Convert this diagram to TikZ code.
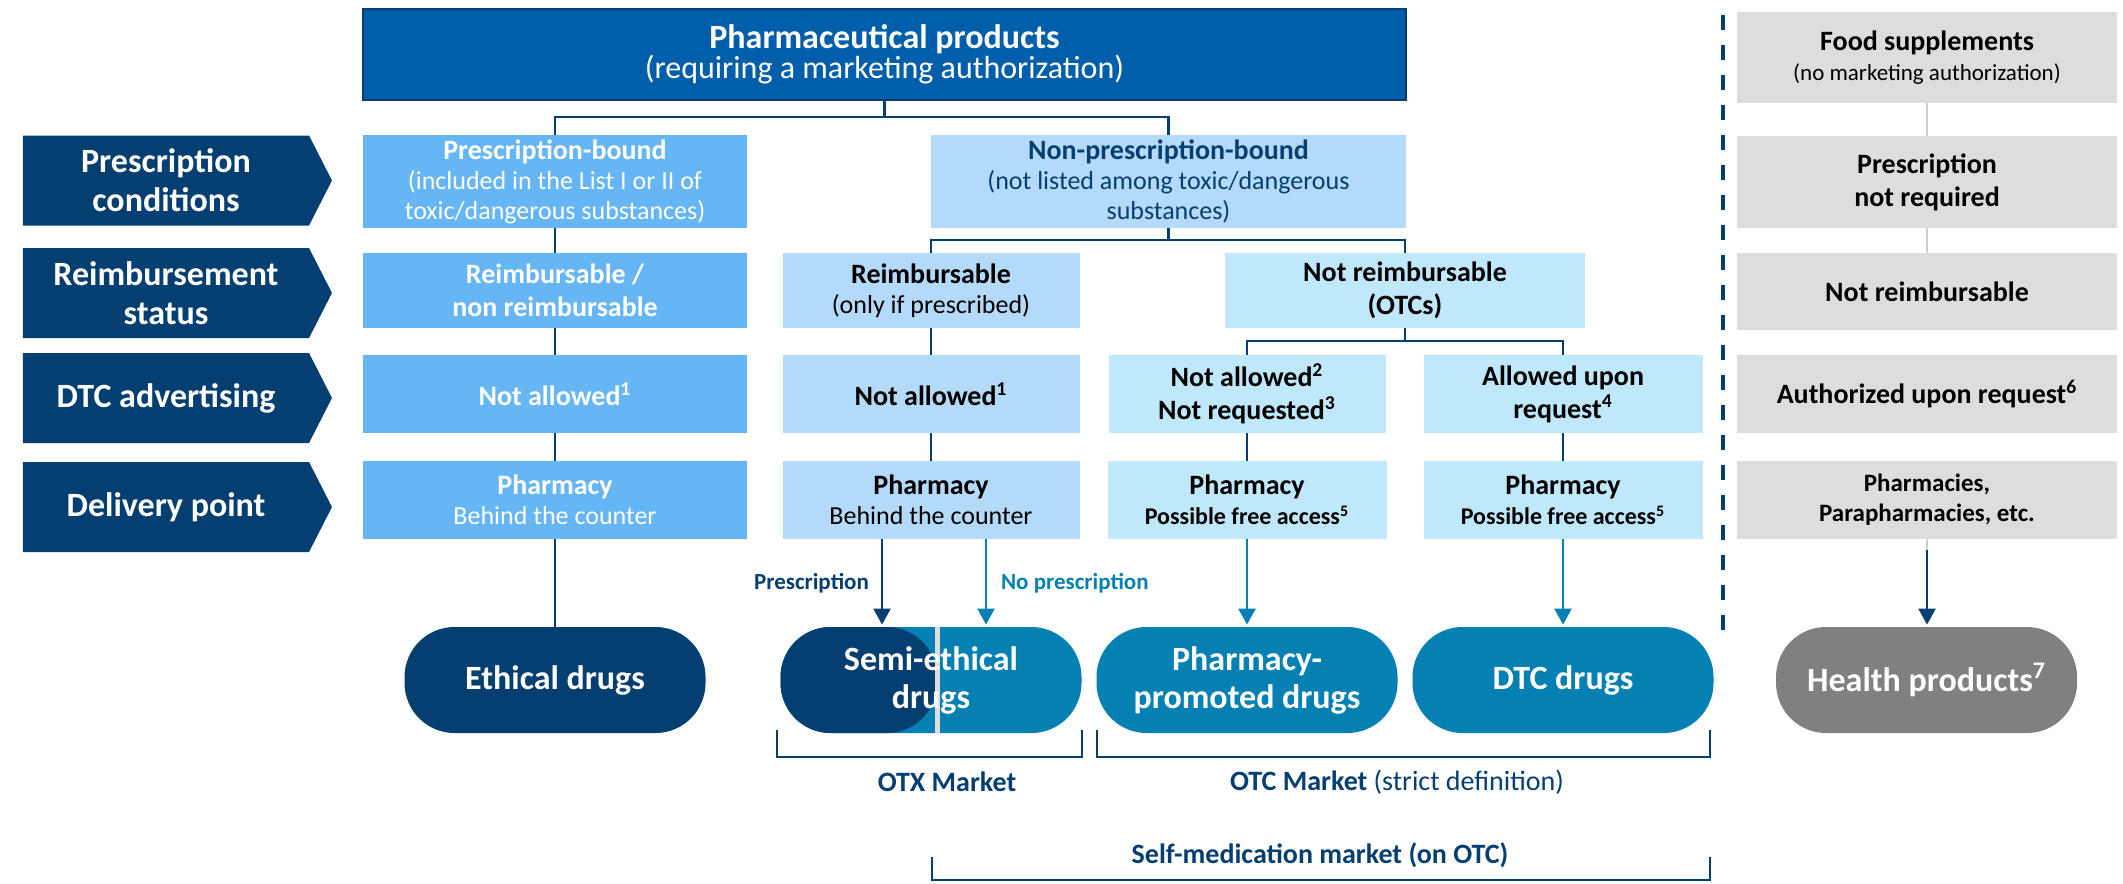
\documentclass[tikz,border=0pt]{standalone}
\usepackage{fontspec}
\setmainfont{Carlito}
\usetikzlibrary{arrows.meta,shapes.symbols}
\definecolor{cTop}{RGB}{0, 94, 170}
\definecolor{cNavy}{RGB}{5, 62, 112}
\definecolor{cMid}{RGB}{102, 182, 246}
\definecolor{cLight}{RGB}{180, 218, 250}
\definecolor{cPale}{RGB}{191, 232, 251}
\definecolor{cGrey}{RGB}{221, 221, 221}
\definecolor{cTeal}{RGB}{4, 128, 179}
\definecolor{cPill}{RGB}{128, 128, 128}
\definecolor{cSep}{RGB}{205, 205, 205}

\begin{document}
\begin{tikzpicture}[
    x=0.5pt, y=-0.5pt,
    >={Triangle[length=8pt,width=8.5pt]},
    cell/.style={align=center, inner sep=1pt, font=\fontsize{13}{15}\selectfont},
    boxSize/.style 2 args={minimum width=#1*0.5pt, minimum height=#2*0.5pt},
    entry/.style={font=\fontsize{14}{16.5}\selectfont\bfseries},
    midBox/.style={cell, fill=cMid, text=white},
    lightBox/.style={cell, fill=cLight, text=black},
    paleBox/.style={cell, fill=cPale, text=black},
    greyBox/.style={cell, fill=cGrey, text=black},
    rowLab/.style={shape=signal, signal to=east, signal pointer angle=126,
        fill=cNavy, text=white, align=center, inner sep=0pt,
        font=\fontsize{17}{19.5}\selectfont\bfseries,
        minimum width=154.5pt, minimum height=45pt},
    pill/.style={rounded corners=25pt, minimum width=150.5pt, minimum height=53pt,
        text=white, align=center, font=\fontsize{17}{19}\selectfont\bfseries},
    tree/.style={cNavy, line width=1.2pt},
    tealLine/.style={cTeal, line width=1.2pt},
    greyLink/.style={cSep, line width=1.2pt},
    bracket/.style={cNavy, line width=1.3pt},
    mkt/.style={text=cNavy, font=\fontsize{14}{16}\selectfont\bfseries},
    tag/.style={font=\fontsize{11.5}{13}\selectfont\bfseries}
]
    \useasboundingbox (0,0) rectangle (2123,883);

    % ---------------- header ----------------
    \node[cell, fill=cTop, draw=cNavy, line width=0.8pt, text=white, boxSize={1043}{91}]
        (pharma) at (884.5,54.5)
        {{\fontsize{17}{20}\selectfont\bfseries Pharmaceutical products}\\
         {\fontsize{16}{19}\selectfont (requiring a marketing authorization)}};

    % ---------------- row labels ----------------
    \node[rowLab] (labCond)  at (166,180.5) {Prescription\\conditions};
    \node[rowLab] (labReimb) at (166,293)   {Reimbursement\\status};
    \node[rowLab] (labDtc)   at (166,398)   {DTC advertising};
    \node[rowLab] (labDeliv) at (166,507)   {Delivery point};

    % ---------------- prescription conditions ----------------
    \node[midBox, boxSize={384}{93}] (presc) at (555,181.5)
        {{\fontsize{14}{16}\selectfont\bfseries Prescription-bound}\\(included in the List I or II of\\toxic/dangerous substances)};
    \node[lightBox, text=cNavy, boxSize={475}{93}] (nonpresc) at (1168.5,181.5)
        {{\fontsize{14}{16}\selectfont\bfseries Non-prescription-bound}\\(not listed among toxic/dangerous\\substances)};

    % ---------------- reimbursement ----------------
    \node[midBox, entry, boxSize={384}{75}] (reimbA) at (555,290.5)
        {Reimbursable /\\non reimbursable};
    \node[lightBox, boxSize={297}{75}] (reimbB) at (931,290.5)
        {{\fontsize{14}{16.5}\selectfont\bfseries Reimbursable}\\(only if prescribed)};
    \node[paleBox, entry, boxSize={360}{75}] (noreimb) at (1405,290.5)
        {Not reimbursable\\(OTCs)};

    % ---------------- DTC advertising ----------------
    \node[midBox, entry, boxSize={384}{78}] (advA) at (555,394)
        {Not allowed\textsuperscript{1}};
    \node[lightBox, entry, boxSize={297}{78}] (advB) at (931,394)
        {Not allowed\textsuperscript{1}};
    \node[paleBox, entry, boxSize={277}{78}] (advC) at (1247,394)
        {Not allowed\textsuperscript{2}\\Not requested\textsuperscript{3}};
    \node[paleBox, entry, boxSize={279}{78}] (advD) at (1563,394)
        {Allowed upon\\request\textsuperscript{4}};

    % ---------------- delivery point ----------------
    \node[midBox, boxSize={384}{78}] (pharmA) at (555,500)
        {{\fontsize{14}{16.5}\selectfont\bfseries Pharmacy}\\Behind the counter};
    \node[lightBox, boxSize={297}{78}] (pharmB) at (931,500)
        {{\fontsize{14}{16.5}\selectfont\bfseries Pharmacy}\\Behind the counter};
    \node[paleBox, boxSize={279}{78}] (pharmC) at (1247,500)
        {{\fontsize{14}{16.5}\selectfont\bfseries Pharmacy}\\
         {\fontsize{12}{14}\selectfont\bfseries Possible free access\textsuperscript{5}}};
    \node[paleBox, boxSize={279}{78}] (pharmD) at (1563,500)
        {{\fontsize{14}{16.5}\selectfont\bfseries Pharmacy}\\
         {\fontsize{12}{14}\selectfont\bfseries Possible free access\textsuperscript{5}}};

    % ---------------- food supplements column ----------------
    \node[greyBox, boxSize={380}{91}] (food) at (1927,57.5)
        {{\fontsize{14}{17}\selectfont\bfseries Food supplements}\\
         {\fontsize{11.5}{14}\selectfont (no marketing authorization)}};
    \node[greyBox, entry, boxSize={380}{92}] (rxFree) at (1927,182)
        {Prescription\\not required};
    \node[greyBox, entry, boxSize={380}{77}] (greyReimb) at (1927,291.5)
        {Not reimbursable};
    \node[greyBox, entry, boxSize={380}{78}] (greyAdv) at (1927,394)
        {Authorized upon request\textsuperscript{6}};
    \node[greyBox, boxSize={380}{78}, font=\fontsize{12.5}{15}\selectfont\bfseries]
        (greyShop) at (1927,500) {Pharmacies,\\Parapharmacies, etc.};

    % ---------------- market pills ----------------
    \node[pill, fill=cNavy] (ethical) at (555,680) {Ethical drugs};
    \node[pill, fill=cTeal, path picture={
            \fill[cNavy] (path picture bounding box.north west)
                rectangle ([xshift=3pt]path picture bounding box.south);
            \draw[cGrey, line width=2.5pt] ([xshift=3pt]path picture bounding box.north)
                -- ([xshift=3pt]path picture bounding box.south);}]
        (semi) at (931,680) {Semi-ethical\\drugs};
    \node[pill, fill=cTeal] (promoted) at (1247,680) {Pharmacy-\\promoted drugs};
    \node[pill, fill=cTeal] (dtc) at (1563,680) {DTC drugs};
    \node[pill, fill=cPill] (health) at (1926.5,680) {Health products\textsuperscript{7}};

    % ---------------- tree connectors ----------------
    \coordinate (jTop) at (884.5,117);
    \coordinate (jNon) at (1168.5,240);
    \coordinate (jOtc) at (1405,341);
    \draw[tree] (pharma.south) -- (jTop);
    \draw[tree] (presc.north) |- (jTop) -| (nonpresc.north);
    \draw[tree] (presc) -- (reimbA) -- (advA) -- (pharmA) -- (ethical);
    \draw[tree] (nonpresc.south) -- (jNon);
    \draw[tree] (reimbB.north) |- (jNon) -| (noreimb.north);
    \draw[tree] (reimbB) -- (advB) -- (pharmB);
    \draw[tree] (noreimb.south) -- (jOtc);
    \draw[tree] (advC.north) |- (jOtc) -| (advD.north);
    \draw[tree] (advC) -- (pharmC);
    \draw[tree] (advD) -- (pharmD);

    % semi-ethical split
    \draw[tree, ->, shorten >=1pt] ([xshift=-24.5pt]pharmB.south) -- ([xshift=-24.5pt]semi.north);
    \draw[tealLine, ->, shorten >=1pt] ([xshift=27.5pt]pharmB.south) -- ([xshift=27.5pt]semi.north);
    \node[tag, text=cNavy, anchor=east] (tagRx) at (876,583) {Prescription};
    \node[tag, text=cTeal, anchor=west] (tagNoRx) at (994,583) {No prescription};

    \draw[tealLine, ->, shorten >=1pt] (pharmC) -- (promoted);
    \draw[tealLine, ->, shorten >=1pt] (pharmD) -- (dtc);

    % food supplements links
    \draw[greyLink] (food) -- (rxFree);
    \draw[greyLink] (rxFree) -- (greyReimb);
    \draw[greyLink] (greyShop.south) -- ([yshift=-5.5pt]greyShop.south);
    \draw[tree, ->, shorten >=1pt] ([yshift=-5.5pt]greyShop.south) -- (greyShop.south |- health.north);

    % ---------------- separator ----------------
    \draw[cNavy, line width=2pt, dash pattern=on 7.5pt off 7.5pt] (1723,15) -- (1723,635);

    % ---------------- market brackets ----------------
    \draw[bracket] (777,730) |- (1082,757) -- (1082,730);
    \draw[bracket] (1097,730) |- (1710,757) -- (1710,730);
    \draw[bracket] (932,857) |- (1710,880) -- (1710,857);
    \node[mkt] (otxLab) at (947,782) {OTX Market};
    \node[mkt] (otcLab) at (1397,782) {OTC Market \mdseries(strict definition)};
    \node[mkt] (selfLab) at (1320,855) {Self-medication market (on OTC)};

\end{tikzpicture}
\end{document}
